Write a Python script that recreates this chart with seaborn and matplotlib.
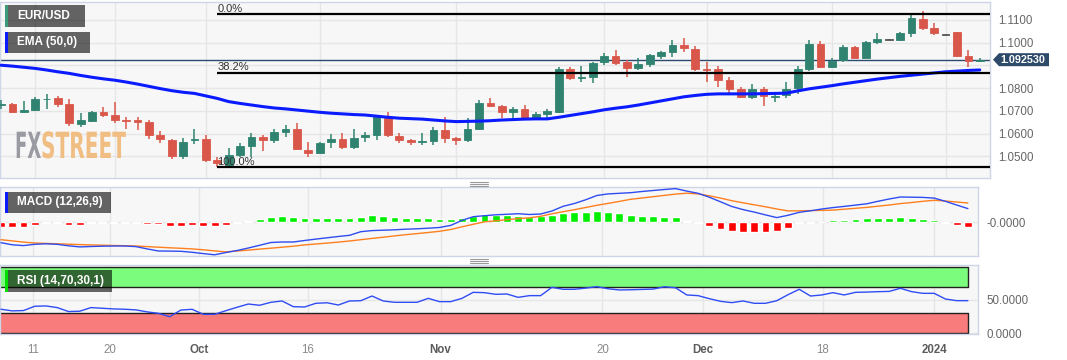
import numpy as np
import pandas as pd
import seaborn as sns
import matplotlib.pyplot as plt
from matplotlib.patches import Rectangle, Polygon
from matplotlib.lines import Line2D
from matplotlib.patheffects import AbstractPathEffect
from matplotlib.transforms import Affine2D

# EUR/USD daily candles
opens = [1.0727, 1.0731, 1.0697, 1.0704, 1.0751, 1.0756, 1.0729, 1.0644, 1.0657, 1.0694,
         1.0681, 1.0660, 1.0662, 1.0650, 1.0595, 1.0573, 1.0503, 1.0570, 1.0576, 1.0482,
         1.0463, 1.0507, 1.0546, 1.0587, 1.0570, 1.0608, 1.0621, 1.0529, 1.0514, 1.0564,
         1.0578, 1.0540, 1.0584, 1.0596, 1.0671, 1.0590, 1.0573, 1.0564, 1.0568, 1.0616,
         1.0580, 1.0573, 1.0622, 1.0734, 1.0721, 1.0697, 1.0709, 1.0663, 1.0687, 1.0697,
         1.0883, 1.0843, 1.0848, 1.0915, 1.0942, 1.0914, 1.0890, 1.0907, 1.0942, 1.0958,
         1.0990, 1.0973, 1.0885, 1.0883, 1.0836, 1.0795, 1.0763, 1.0795, 1.0763, 1.0770,
         1.0800, 1.0883, 1.0993, 1.0895, 1.0922, 1.0980, 1.0934, 1.1005, 1.1013, 1.1011,
         1.1044, 1.1104, 1.1066, 1.1034, 1.1046, 1.0943, 1.0921]
highs = [1.0748, 1.0736, 1.0745, 1.0760, 1.0773, 1.0767, 1.0754, 1.0690, 1.0700, 1.0719,
         1.0738, 1.0675, 1.0672, 1.0660, 1.0612, 1.0576, 1.0580, 1.0620, 1.0593, 1.0496,
         1.0536, 1.0558, 1.0602, 1.0595, 1.0620, 1.0638, 1.0645, 1.0565, 1.0565, 1.0599,
         1.0602, 1.0620, 1.0609, 1.0682, 1.0697, 1.0605, 1.0576, 1.0602, 1.0628, 1.0675,
         1.0587, 1.0669, 1.0748, 1.0756, 1.0727, 1.0716, 1.0726, 1.0697, 1.0709, 1.0892,
         1.0892, 1.0898, 1.0917, 1.0954, 1.0968, 1.0924, 1.0932, 1.0951, 1.0965, 1.1012,
         1.1020, 1.0986, 1.0914, 1.0898, 1.0851, 1.0807, 1.0819, 1.0807, 1.0785, 1.0829,
         1.0898, 1.1012, 1.1008, 1.0934, 1.0990, 1.0985, 1.1008, 1.1041, 1.1017, 1.1049,
         1.1122, 1.1139, 1.1085, 1.1036, 1.1049, 1.0968, 1.0934]
lows = [1.0707, 1.0690, 1.0693, 1.0701, 1.0709, 1.0716, 1.0635, 1.0631, 1.0652, 1.0675,
        1.0649, 1.0620, 1.0614, 1.0576, 1.0561, 1.0490, 1.0490, 1.0555, 1.0475, 1.0452,
        1.0455, 1.0499, 1.0499, 1.0525, 1.0558, 1.0584, 1.0529, 1.0496, 1.0511, 1.0536,
        1.0532, 1.0532, 1.0565, 1.0573, 1.0584, 1.0558, 1.0551, 1.0551, 1.0551, 1.0558,
        1.0551, 1.0565, 1.0616, 1.0719, 1.0667, 1.0663, 1.0660, 1.0660, 1.0667, 1.0690,
        1.0836, 1.0829, 1.0824, 1.0902, 1.0902, 1.0851, 1.0880, 1.0895, 1.0929, 1.0936,
        1.0961, 1.0877, 1.0829, 1.0807, 1.0778, 1.0756, 1.0753, 1.0722, 1.0741, 1.0758,
        1.0773, 1.0876, 1.0888, 1.0888, 1.0914, 1.0931, 1.0931, 1.0993, 1.1010, 1.1008,
        1.1027, 1.1056, 1.1034, 1.1032, 1.0939, 1.0895, 1.0915]
closes = [1.0730, 1.0697, 1.0704, 1.0751, 1.0754, 1.0732, 1.0647, 1.0659, 1.0694, 1.0681,
          1.0660, 1.0656, 1.0650, 1.0596, 1.0576, 1.0503, 1.0565, 1.0576, 1.0482, 1.0470,
          1.0507, 1.0546, 1.0587, 1.0570, 1.0606, 1.0621, 1.0532, 1.0514, 1.0561, 1.0578,
          1.0540, 1.0583, 1.0595, 1.0675, 1.0595, 1.0570, 1.0565, 1.0568, 1.0616, 1.0580,
          1.0573, 1.0622, 1.0734, 1.0722, 1.0697, 1.0709, 1.0663, 1.0686, 1.0701, 1.0883,
          1.0844, 1.0848, 1.0910, 1.0942, 1.0912, 1.0890, 1.0907, 1.0946, 1.0958, 1.0990,
          1.0976, 1.0886, 1.0880, 1.0836, 1.0795, 1.0763, 1.0795, 1.0767, 1.0767, 1.0797,
          1.0883, 1.0993, 1.0895, 1.0920, 1.0980, 1.0934, 1.1003, 1.1015, 1.1013, 1.1041,
          1.1107, 1.1066, 1.1044, 1.1034, 1.0943, 1.0921, 1.09253]
ema50 = [1.0901, 1.0897, 1.0892, 1.0887, 1.0880, 1.0872, 1.0865, 1.0856, 1.0848, 1.0841,
         1.0835, 1.0827, 1.0818, 1.0808, 1.0798, 1.0789, 1.0782, 1.0777, 1.0766, 1.0755,
         1.0741, 1.0733, 1.0726, 1.0719, 1.0713, 1.0709, 1.0704, 1.0699, 1.0694, 1.0690,
         1.0687, 1.0684, 1.0682, 1.0677, 1.0672, 1.0668, 1.0666, 1.0664, 1.0660, 1.0656,
         1.0653, 1.0654, 1.0655, 1.0657, 1.0660, 1.0662, 1.0664, 1.0665, 1.0665, 1.0672,
         1.0680, 1.0688, 1.0696, 1.0705, 1.0712, 1.0718, 1.0726, 1.0735, 1.0744, 1.0753,
         1.0762, 1.0768, 1.0773, 1.0775, 1.0775, 1.0775, 1.0775, 1.0776, 1.0777, 1.0778,
         1.0788, 1.0797, 1.0804, 1.0811, 1.0819, 1.0826, 1.0833, 1.0840, 1.0846, 1.0852,
         1.0857, 1.0862, 1.0867, 1.0872, 1.0875, 1.0878, 1.0880]

# MACD (12,26,9) in units of 1e-4
macd_line = [-40.8, -45, -46.6, -44, -43, -44, -47, -49.2, -48.4, -47.8,
             -47.4, -47.4, -48.6, -53.2, -57.4, -57.6, -58, -60, -62.6, -65,
             -60.4, -56.4, -51.4, -46, -40.4, -39.4, -39.4, -36.4, -33.6, -31,
             -28.4, -26, -18.8, -16.6, -15.8, -15, -13.8, -13, -11.8, -10.4,
             -6.2, 3.8, 11.2, 13.2, 15, 16, 17.2, 15.6, 16.6, 22.6,
             32, 37.6, 45, 53.6, 56.8, 58, 59.2, 61.6, 63.6, 65.6,
             67.4, 62.4, 58, 50.2, 41, 31.6, 25.4, 20.4, 14.8, 9.4,
             14, 20, 23, 26.6, 29.4, 31.8, 34.4, 37, 42, 46.6,
             50.6, 50.2, 49.8, 48.4, 42, 34.6, 27.4]
signal_line = [-34.8, -37.2, -39.6, -41.4, -42.2, -43, -43.8, -44.6, -45.2, -45.8,
               -46.4, -46.8, -47.4, -48.6, -49.8, -51, -52, -53.2, -55, -57.2,
               -59.2, -57.4, -55.6, -53.6, -51.8, -49.8, -47.8, -45.2, -43.4, -41.6,
               -39.6, -37.4, -34.8, -32.2, -29.8, -27.2, -24.8, -22.6, -20.4, -18,
               -14.4, -9, -4, 1, 3, 5.2, 7.4, 9, 12, 17,
               21.2, 25.2, 29.6, 34, 37.8, 41.8, 46, 48.6, 51.2, 53.8,
               56.4, 58.2, 56.8, 53, 48.4, 43.2, 39, 35, 31, 26.6,
               22.8, 23, 23.4, 23.8, 24.4, 26.2, 28, 29.8, 32.2, 34.6,
               37.4, 39.6, 42, 44, 42.6, 40.6, 38.6]
macd_hist = [-8.7, -8.7, -8.7, -5.3, -1.5, -1.5, -5.3, -5.3, -1.5, -1.5,
             -1, -1, -1, -4, -4, -7.3, -7.3, -5.3, -7.3, -7.3,
             -5.3, -0.8, 3.3, 6, 10, 12.7, 10, 8, 8, 8,
             8, 9.3, 10.7, 14.7, 12, 10, 8.7, 8, 8.7, 7.3,
             6.7, 8, 12.7, 16, 15.3, 15.3, 12, 11.3, 12, 15.3,
             19.3, 20, 21.3, 23.3, 21.3, 18.7, 14.7, 13.3, 12, 11.3,
             10, 3.3, -1, -6.7, -14, -17.3, -18.7, -20, -18.7, -17.3,
             -12, -1.5, -1, 0.5, 4, 4.7, 6.7, 8, 8, 9.3,
             11.3, 9.3, 6.7, 4.7, -1, -5.3, -10]

# RSI (14)
rsi = [36, 33.5, 34, 40.5, 41, 38.5, 32.5, 33, 38.5, 37.5,
       36.5, 36, 35, 32, 29.8, 24.7, 34.8, 35.9, 28.3, 28.3,
       33.8, 39, 43.9, 42, 46.5, 48.5, 39.9, 39.4, 45, 45.8,
       42.4, 48.5, 48.9, 56, 48.5, 46.5, 46.5, 46.5, 52.5, 47.5,
       47.5, 52.5, 61.6, 61.1, 58.6, 59.1, 54, 56.6, 56.6, 69.2,
       66.2, 66.2, 68, 70.2, 67, 65.2, 65.5, 66, 66.5, 70,
       68.5, 57.6, 56.6, 52, 48, 46, 48.5, 45, 45, 48.9,
       58, 66.2, 56, 57.6, 61.1, 57.6, 61.6, 62, 62.6, 63,
       67.7, 62.6, 60.1, 60.1, 51.5, 49, 49]

fib_high = 1.1126
fib_pcts = [0.0, 0.382, 1.0]
fib_names = ["0.0%", "38.2%", "100.0%"]

price_ticks = [1.05, 1.06, 1.07, 1.08, 1.09, 1.10, 1.11]
date_labels = ["11", "20", "Oct", "16", "Nov", "20", "Dec", "18", "2024"]
date_bold = ["Oct", "Nov", "Dec", "2024"]
date_pos_lower = [2.85, 9.7, 17.6, 27.3, 39.1, 53.5, 62.4, 73.1, 83.0]
date_pos_main = [3, 10, 18, 28, 40, 53, 62, 73, 83]

df = pd.DataFrame({"open": opens, "high": highs, "low": lows, "close": closes,
                   "ema": ema50, "macd": np.array(macd_line) * 1e-4,
                   "signal": np.array(signal_line) * 1e-4,
                   "hist": np.array(macd_hist) * 1e-4, "rsi": rsi})
df["i"] = np.arange(len(df))

GREEN = "#2f8370"
RED = "#d9574a"
GRID = "#e6e6e6"
SPINE = "#cdd5e6"
TXT = "#666666"

sns.set_style("white")
plt.rcParams["font.family"] = ["Liberation Sans", "DejaVu Sans"]

W, H = 1067, 360
fig = plt.figure(figsize=(W / 100, H / 100), dpi=100, facecolor="white")


def fig_rect(x0, y0, x1, y1):
    return [x0 / W, 1 - y1 / H, (x1 - x0) / W, (y1 - y0) / H]


ax = fig.add_axes(fig_rect(0, 2, 990, 178))
ax_macd = fig.add_axes(fig_rect(0, 187, 978, 256))
ax_rsi = fig.add_axes(fig_rect(0, 265, 978, 334))

xlim = (-0.09, 86.9)
for a in (ax, ax_macd, ax_rsi):
    a.set_facecolor("#f7f7f7")
    a.set_xlim(*xlim)
    for s in a.spines.values():
        s.set_color(SPINE)
        s.set_linewidth(1)
    a.yaxis.tick_right()
    a.tick_params(axis="both", length=0, labelsize=8.3, labelcolor=TXT, pad=6)
    a.grid(True, color=GRID, lw=1)
    a.set_axisbelow(True)

# ---- main price panel ----
o, c = df["open"].values, df["close"].values
colors = np.where(c > o, GREEN, np.where(c < o, RED, "#555555"))
ax.vlines(df["i"], df["low"], df["high"], colors=colors, lw=1.1, zorder=3)
ax.bar(df["i"], np.maximum(np.abs(c - o), 0.00035), bottom=np.minimum(o, c),
       width=0.68, color=colors, edgecolor=colors, lw=0.6, zorder=4)
sns.lineplot(data=df, x="i", y="ema", ax=ax, color="#0a1cff", linewidth=2.2, zorder=5)

fib_start = int(df["low"].idxmin())
fib_low = df["low"].min()
for pct, name in zip(fib_pcts, fib_names):
    lvl = fib_high - pct * (fib_high - fib_low)
    ax.hlines(lvl, fib_start, xlim[1], color="black", lw=1.6, zorder=6)
    ax.annotate(name, (fib_start, lvl), xytext=(0, 1.6), textcoords="offset points",
                fontsize=8, color="#333333", va="baseline", ha="left", zorder=7)

last_close = df["close"].iloc[-1]
ax.axhline(last_close, color="#2c4a6e", lw=1, zorder=2)
ax.set_ylim(1.0405, 1.1179)
ax.set_yticks(price_ticks)
# the 1.0900 label sits under the last-price badge
ax.set_yticklabels(["" if abs(t - last_close) < 0.004 else f"{t:.4f}" for t in price_ticks])
ax.set_xticks(date_pos_main)
ax.set_xticklabels([])
ax.set_xlabel("")
ax.set_ylabel("")

# ---- MACD panel ----
hist = df["hist"].values
ax_macd.bar(df["i"], hist, width=0.7, color=np.where(hist >= 0, "#00ee00", "#ff0000"),
            zorder=2)
sns.lineplot(data=df, x="i", y="signal", ax=ax_macd, color="#ff7f1e", linewidth=1, zorder=3)
sns.lineplot(data=df, x="i", y="macd", ax=ax_macd, color="#2f4cf0", linewidth=1, zorder=4)
ax_macd.set_ylim(-67.4e-4, 70.6e-4)
ax_macd.set_yticks([0])
ax_macd.set_yticklabels(["-0.0000"])
ax_macd.set_xticks(date_pos_lower)
ax_macd.set_xticklabels([])
ax_macd.set_xlabel("")
ax_macd.set_ylabel("")

# ---- RSI panel ----
last = df["i"].iloc[-1]
ax_rsi.fill_between([xlim[0] - 1, last], 70, 100, facecolor="#7cfc7c",
                    edgecolor="#222222", lw=1, zorder=1)
ax_rsi.fill_between([xlim[0] - 1, last], 0, 30, facecolor="#f87c7c",
                    edgecolor="#222222", lw=1, zorder=1)
sns.lineplot(data=df, x="i", y="rsi", ax=ax_rsi, color="#2f4cf5", linewidth=1, zorder=3)
ax_rsi.set_ylim(-1.5, 103)
ax_rsi.set_yticks([0, 50])
ax_rsi.set_yticklabels(["0.0000", "50.0000"])
ax_rsi.set_xticks(date_pos_lower)
ax_rsi.set_xticklabels(date_labels)
ax_rsi.tick_params(axis="x", pad=7)
for lab in ax_rsi.get_xticklabels():
    if lab.get_text() in date_bold:
        lab.set_fontweight("bold")
        lab.set_color("#5c5c5c")
    else:
        lab.set_color("#8a8a8a")
ax_rsi.set_xlabel("")
ax_rsi.set_ylabel("")


# ---- overlays: legend boxes, badge, watermark, grips ----
def label_box(x0, y0, x1, y1, strip, text):
    fig.add_artist(Rectangle((x0 / W, 1 - y1 / H), (x1 - x0) / W, (y1 - y0) / H,
                             transform=fig.transFigure, facecolor="black", alpha=0.6,
                             lw=0, zorder=5))
    fig.add_artist(Rectangle((x0 / W, 1 - y1 / H), 2.5 / W, (y1 - y0) / H,
                             transform=fig.transFigure, facecolor=strip, lw=0, zorder=6))
    fig.text((x0 + 12) / W, 1 - (y0 + y1) / 2 / H, text, color="white", fontsize=8.5,
             fontweight="bold", va="center", ha="left", zorder=7)


label_box(5, 5, 85, 27, "#3a9a7a", "EUR/USD")
label_box(5, 32, 90, 53, "#0a1cff", "EMA (50,0)")
label_box(5, 192, 111, 213, "#0a1cff", "MACD (12,26,9)")
label_box(5, 270, 112, 292, "#00dd00", "RSI (14,70,30,1)")

yc = ax.transData.transform((0, last_close))[1]
badge = [(993, yc), (999, yc + 6.5), (1049, yc + 6.5), (1049, yc - 6.5), (999, yc - 6.5)]
fig.add_artist(Polygon([(px / W, py / H) for px, py in badge], closed=True,
                       transform=fig.transFigure, facecolor="#2e4a6a", lw=0, zorder=8))
fig.text(1023 / W, yc / H, f"{last_close:.6f}", color="white", fontsize=7.8,
         fontweight="bold", ha="center", va="center", zorder=9)


class Stretch(AbstractPathEffect):
    """Stretch glyphs vertically about the text baseline (condensed logo look)."""

    def __init__(self, y0, sy):
        super().__init__()
        self.y0, self.sy = y0, sy

    def draw_path(self, renderer, gc, tpath, affine, rgbFace=None):
        st = Affine2D().translate(0, -self.y0).scale(1, self.sy).translate(0, self.y0)
        renderer.draw_path(gc, tpath, affine + st, rgbFace)


base = H - 158
fig.text(15 / W, base / H, "FX", fontsize=13, fontweight="bold", family="DejaVu Sans",
         color="#9a9aa2", va="baseline", ha="left", path_effects=[Stretch(base, 2.0)])
fig.text(41 / W, base / H, "STREET", fontsize=14.5, fontweight="bold",
         family="DejaVu Sans", color="#f0bd82", va="baseline", ha="left",
         path_effects=[Stretch(base, 1.79)])

for gy in (182, 184, 186, 259, 261, 263):
    fig.add_artist(Line2D([470 / W, 488 / W], [1 - gy / H] * 2, color="#9a9a9a", lw=0.8))

fig.savefig("out.png", dpi=100, facecolor="white")
